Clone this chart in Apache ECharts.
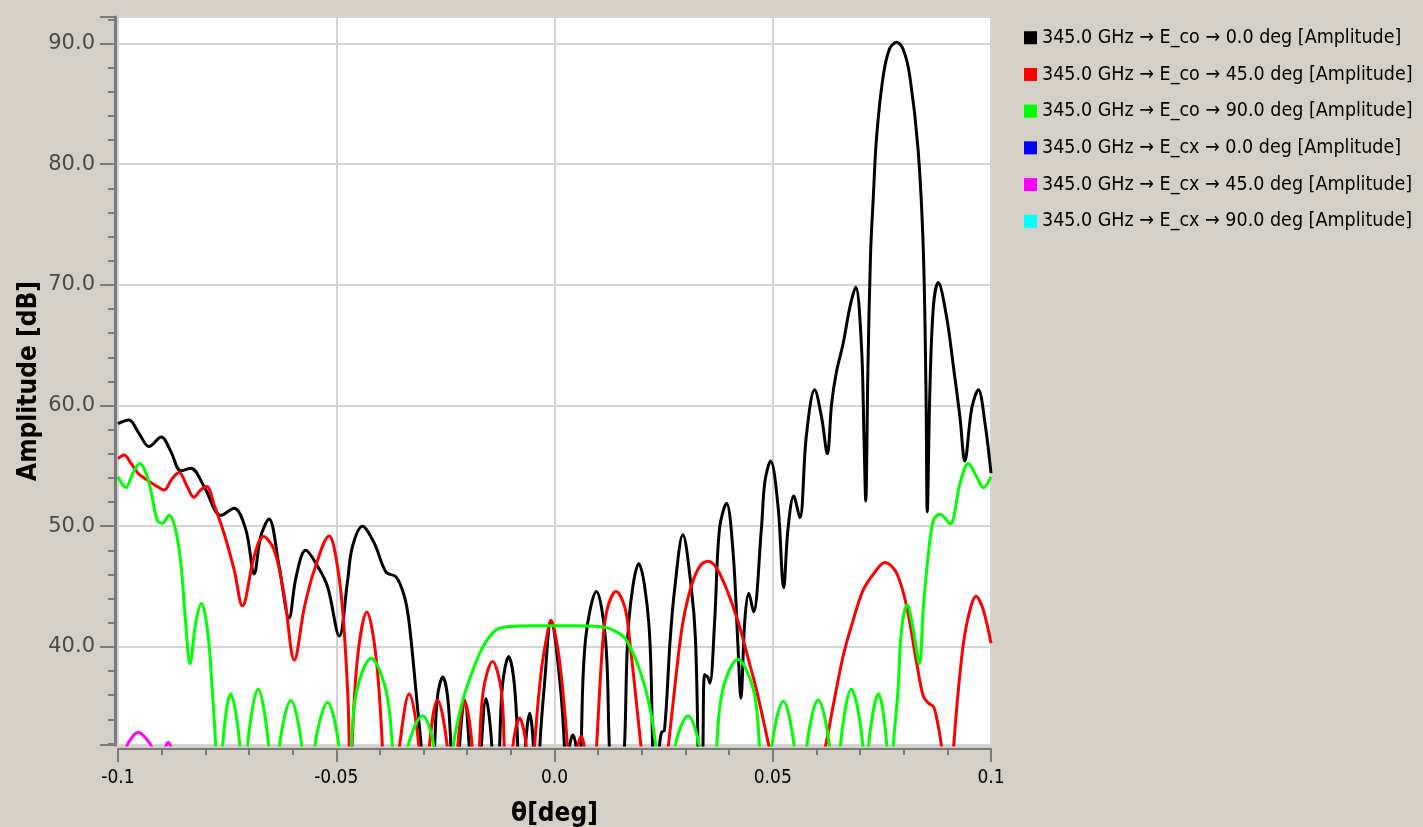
<!DOCTYPE html>
<html><head><meta charset="utf-8">
<script src="https://cdn.jsdelivr.net/npm/echarts@6/dist/echarts.min.js"></script>
<style>html,body{margin:0;padding:0;background:#d4d0c8;}#c{width:1423px;height:827px;}</style>
</head><body><div id="c"></div>
<script>
const seriesNames = [
  '345.0 GHz \u2192 E_co \u2192 0.0 deg [Amplitude]',
  '345.0 GHz \u2192 E_co \u2192 45.0 deg [Amplitude]',
  '345.0 GHz \u2192 E_co \u2192 90.0 deg [Amplitude]',
  '345.0 GHz \u2192 E_cx \u2192 0.0 deg [Amplitude]',
  '345.0 GHz \u2192 E_cx \u2192 45.0 deg [Amplitude]',
  '345.0 GHz \u2192 E_cx \u2192 90.0 deg [Amplitude]'
];
const seriesColors = ['#000000','#ff0000','#00ff00','#0000ff','#ff00ff','#00ffff'];
const xTicks = [-0.1, -0.05, 0.0, 0.05, 0.1];
const yTicks = [40, 50, 60, 70, 80, 90];

const eco0 = [
[-0.1,58.5],[-0.0975,58.8],[-0.0952,57.7],[-0.0929,56.6],[-0.0901,57.4],[-0.0879,56.2],[-0.0856,54.6],[-0.0833,54.8],[-0.0803,53.3],[-0.0764,50.9],[-0.0734,51.5],[-0.0707,49.7],[-0.0688,46.05],[-0.0673,49.15],[-0.0654,50.6],[-0.0631,46.7],[-0.0608,42.4],[-0.0592,45.8],[-0.0570,48.0],[-0.0543,46.7],[-0.0520,45.0],[-0.0493,40.9],[-0.0474,45.5],[-0.0463,48.3],[-0.0440,50.0],[-0.0413,48.6],[-0.0386,46.2],[-0.0363,45.8],[-0.0344,44.2],[-0.0333,42.0],[-0.0314,35.05],[-0.0305,31.5],[-0.0290,22],
[-0.0275,31.5],[-0.0268,35.9],[-0.0256,37.5],[-0.0245,35.9],[-0.0237,31.5],[-0.0227,22],
[-0.0218,31.5],[-0.0206,35.6],[-0.0195,31.5],[-0.0182,22],
[-0.0168,31.5],[-0.0157,35.7],[-0.0143,31.5],[-0.0135,22],
[-0.0126,31.5],[-0.0119,36.9],[-0.0105,39.2],[-0.0092,36.9],[-0.0084,31.5],[-0.0078,22],
[-0.0067,31.5],[-0.0057,34.5],[-0.0048,31.5],[-0.0043,22],
[-0.0034,31.5],[-0.0023,36.9],[-0.0008,42.1],[0.0011,37.6],[0.0023,31.5],[0.0029,22],
[0.0034,31.5],[0.0042,32.7],[0.0050,31.5],[0.0055,22],
[0.0061,31.5],[0.0071,40.6],[0.0096,44.6],[0.0117,40.6],[0.0126,31.5],[0.0142,22],
[0.0160,31.5],[0.0170,42.0],[0.0193,46.9],[0.0216,42.0],[0.0225,31.5],[0.0233,22],
[0.0240,31.5],[0.0245,32.9],[0.0252,33.1],[0.0265,40.6],[0.0275,44.7],[0.0294,49.3],[0.0314,44.7],[0.0323,40.6],[0.0329,31.5],[0.0335,22],
[0.0340,31.5],[0.0344,37.7],[0.0351,37.5],[0.0356,37.0],[0.0367,42.2],[0.0378,49.8],[0.0394,51.9],[0.0409,47.9],[0.0420,40.3],[0.0427,35.75],[0.0436,42.2],[0.0445,44.45],[0.0456,42.9],[0.0474,49.8],[0.0482,53.7],[0.0495,55.4],[0.0512,51.7],[0.0525,44.9],[0.0535,49.8],[0.0548,52.5],[0.0562,50.7],[0.0577,57.5],[0.0596,61.3],[0.0612,59.0],[0.0625,56.0],[0.0635,60.2],[0.0646,62.8],[0.0661,65.1],[0.0677,68.2],[0.0690,69.8],[0.0703,65.1],[0.0709,57.5],[0.0713,52.1],[0.0718,63.0],[0.0724,72.5],[0.0730,77.0],[0.0738,82.3],[0.0753,87.3],[0.0768,89.6],[0.0784,90.1],[0.0799,89.5],[0.0814,87.3],[0.0833,81.2],[0.0845,72.8],[0.0851,61.3],[0.0854,51.2],[0.0860,61.3],[0.0868,68.2],[0.0879,70.2],[0.0898,67.4],[0.0914,63.2],[0.0929,59.0],[0.0940,55.4],[0.0956,59.8],[0.0971,61.3],[0.0986,58.6],[0.1,54.4]
];

const eco45 = [
[-0.1,55.6],[-0.0986,55.9],[-0.0970,55.2],[-0.0952,54.3],[-0.0940,54.0],[-0.0915,53.4],[-0.0894,53.0],[-0.0877,53.9],[-0.0860,54.45],[-0.0843,53.4],[-0.0826,52.4],[-0.0811,53.0],[-0.0797,53.3],[-0.0780,51.8],[-0.0757,49.4],[-0.0734,46.4],[-0.0715,43.4],[-0.0688,47.5],[-0.0667,49.15],[-0.0642,48.0],[-0.0619,44.2],[-0.0596,38.9],[-0.0573,43.3],[-0.0550,46.4],[-0.0516,49.2],[-0.0501,47.5],[-0.0486,43.3],[-0.0474,36.4],[-0.0470,31.5],[-0.0467,24],[-0.0464,31.5],[-0.0451,39.2],[-0.0430,42.9],[-0.0409,39.2],[-0.0394,31.5],[-0.0385,22],
[-0.0356,31.5],[-0.0333,36.1],[-0.0310,31.5],[-0.0298,22],
[-0.0287,31.5],[-0.0268,35.6],[-0.0245,31.5],[-0.0233,22],
[-0.0222,31.5],[-0.0206,35.5],[-0.0188,31.5],[-0.0180,22],
[-0.0172,31.5],[-0.0163,36.4],[-0.0142,38.8],[-0.0122,36.4],[-0.0115,31.5],[-0.0105,22],
[-0.0096,31.5],[-0.0080,34.1],[-0.0064,31.5],[-0.0056,22],
[-0.0046,31.5],[-0.0031,37.8],[-0.0019,40.6],[-0.0008,42.2],[0.0004,40.6],[0.0015,37.8],[0.0030,31.5],[0.0040,22],
[0.0053,31.5],[0.0061,32.6],[0.0069,31.5],[0.0080,22],
[0.0096,31.5],[0.0111,40.6],[0.0122,43.3],[0.0141,44.6],[0.0161,43.3],[0.0172,40.6],[0.0199,31.5],[0.0228,22],
[0.0260,31.5],[0.0279,37.8],[0.0294,42.0],[0.0313,45.0],[0.0333,46.7],[0.0352,47.1],[0.0378,46.1],[0.0417,42.5],[0.0447,38.6],[0.0463,36.4],[0.0493,31.5],[0.0550,22],
[0.0619,31.5],[0.0638,35.05],[0.0661,39.2],[0.0684,42.2],[0.0707,44.7],[0.0730,46.0],[0.0757,47.0],[0.0784,46.1],[0.0807,43.3],[0.0830,38.6],[0.0845,35.9],[0.0858,35.3],[0.0868,35.05],[0.0875,34.2],[0.0887,31.5],[0.0900,22],
[0.0914,31.5],[0.0933,39.2],[0.0948,42.5],[0.0966,44.2],[0.0982,43.1],[0.1,40.3]
];

const eco90 = [
[-0.1,54.1],[-0.0982,53.2],[-0.0966,54.4],[-0.0950,55.2],[-0.0937,54.5],[-0.0925,53.0],[-0.0910,50.5],[-0.0898,50.25],[-0.0883,50.9],[-0.0868,49.7],[-0.0856,46.9],[-0.0845,42.0],[-0.0835,38.6],[-0.0822,42.0],[-0.0809,43.6],[-0.0795,41.4],[-0.0784,36.4],[-0.0776,31.5],[-0.0769,22],
[-0.0761,31.5],[-0.0742,36.1],[-0.0720,31.5],[-0.0712,22],
[-0.0704,31.5],[-0.0679,36.5],[-0.0654,31.5],[-0.0642,22],
[-0.0631,31.5],[-0.0604,35.55],[-0.0578,31.5],[-0.0564,22],
[-0.0550,31.5],[-0.0520,35.4],[-0.0493,31.5],[-0.0480,22],
[-0.0466,31.5],[-0.0453,36.4],[-0.0420,39.05],[-0.0386,36.4],[-0.0371,31.5],[-0.0356,22],
[-0.0337,31.5],[-0.0302,34.3],[-0.0275,31.5],[-0.0254,22],
[-0.0233,31.5],[-0.0214,35.05],[-0.0195,37.3],[-0.0164,40.0],[-0.0134,41.4],[-0.0103,41.7],[-0.0050,41.75],[0.0,41.75],[0.0050,41.75],[0.0100,41.7],[0.0119,41.6],[0.0140,41.3],[0.0164,40.6],[0.0195,38.1],[0.0218,35.05],[0.0233,31.5],[0.0254,22],
[0.0275,31.5],[0.0306,34.3],[0.0333,31.5],[0.0352,22],
[0.0371,31.5],[0.0385,36.4],[0.0420,38.98],[0.0456,36.4],[0.0470,31.5],[0.0485,22],
[0.0497,31.5],[0.0524,35.5],[0.0550,31.5],[0.0564,22],
[0.0577,31.5],[0.0604,35.6],[0.0631,31.5],[0.0642,22],
[0.0654,31.5],[0.0680,36.5],[0.0707,31.5],[0.0713,22],
[0.0719,31.5],[0.0742,36.1],[0.0762,31.5],[0.0769,22],
[0.0776,31.5],[0.0787,36.4],[0.0795,41.4],[0.0808,43.5],[0.0822,41.4],[0.0836,38.6],[0.0845,43.3],[0.0856,47.5],[0.0868,50.5],[0.0883,51.0],[0.0906,50.2],[0.0929,53.55],[0.0948,55.2],[0.0967,54.1],[0.0982,53.2],[0.1,54.1]
];

const ecx0 = [];
const ecx45 = [
[-0.0990,24],[-0.0982,31.5],[-0.0968,32.5],[-0.0954,32.9],[-0.0938,32.5],[-0.0921,31.5],[-0.0905,24],[-0.0892,31.5],[-0.0885,32.1],[-0.0878,31.5],[-0.0870,24]
];
const ecx90 = [];

const allData = [eco0, eco45, eco90, ecx0, ecx45, ecx90];

const chart = echarts.init(document.getElementById('c'), null, {renderer: 'canvas'});
const narrow = "'Liberation Sans Narrow','DejaVu Sans Condensed','Noto Sans CJK JP',sans-serif";

chart.setOption({
  backgroundColor: '#d4d0c8',
  animation: false,
  grid: {left: 118, right: 432, top: 17, bottom: 82, show: true, outerBoundsMode: 'none', containLabel: false,
    backgroundColor: '#ffffff', borderColor: '#a8a8a8', borderWidth: 1},
  legend: {
    orient: 'vertical', left: 1019, top: 23,
    itemWidth: 13, itemHeight: 13, itemGap: 17.2, icon: 'rect',
    data: seriesNames,
    textStyle: {fontFamily: narrow, fontSize: 19.5, lineHeight: 18, color: '#000'}
  },
  xAxis: {
    type: 'value', min: xTicks[0], max: xTicks[xTicks.length - 1], interval: 0.05,
    offset: 4,
    name: '\u03b8[deg]', nameLocation: 'middle', nameGap: 52,
    nameTextStyle: {fontFamily: narrow, fontSize: 26, fontWeight: 'bold', color: '#000'},
    axisLine: {show: true, onZero: false, lineStyle: {color: '#7a7a7a', width: 2}},
    axisTick: {show: true, length: 13, lineStyle: {color: '#7a7a7a', width: 2}},
    minorTick: {show: true, splitNumber: 5, length: 6, lineStyle: {color: '#7a7a7a', width: 2}},
    axisLabel: {margin: 20, fontFamily: narrow, fontSize: 19, color: '#000',
      formatter: v => Math.abs(v) < 1e-9 ? '0.0' : String(+v.toFixed(3))},
    splitLine: {show: true, lineStyle: {color: '#d4d4d4', width: 2}}
  },
  yAxis: {
    type: 'value', min: 31.87, max: 92.2, splitNumber: 6,
    offset: 3,
    name: 'Amplitude [dB]', nameLocation: 'middle', nameGap: 73, nameRotate: 90, nameMoveOverlap: false,
    nameTextStyle: {fontFamily: narrow, fontSize: 26, fontWeight: 'bold', color: '#000'},
    axisLine: {show: true, onZero: false, lineStyle: {color: '#7a7a7a', width: 3}},
    axisTick: {show: true, length: 15, lineStyle: {color: '#7a7a7a', width: 2}},
    minorTick: {show: true, splitNumber: 5, length: 7, lineStyle: {color: '#7a7a7a', width: 2}},
    axisLabel: {margin: 20, fontFamily: "'DejaVu Sans',sans-serif", fontSize: 21, color: '#4a4a4a',
      showMinLabel: false, showMaxLabel: false,
      formatter: v => yTicks.indexOf(Math.round(v)) >= 0 && Math.abs(v - Math.round(v)) < 1e-6 ? v.toFixed(1) : ''},
    splitLine: {show: true, lineStyle: {color: '#d4d4d4', width: 2}}
  },
  series: seriesNames.map((n, i) => ({
    name: n, type: 'line', data: allData[i], showSymbol: false, symbol: 'none',
    smooth: 0.35, clip: true, color: seriesColors[i],
    lineStyle: {color: seriesColors[i], width: 3}
  }))
});
</script></body></html>
